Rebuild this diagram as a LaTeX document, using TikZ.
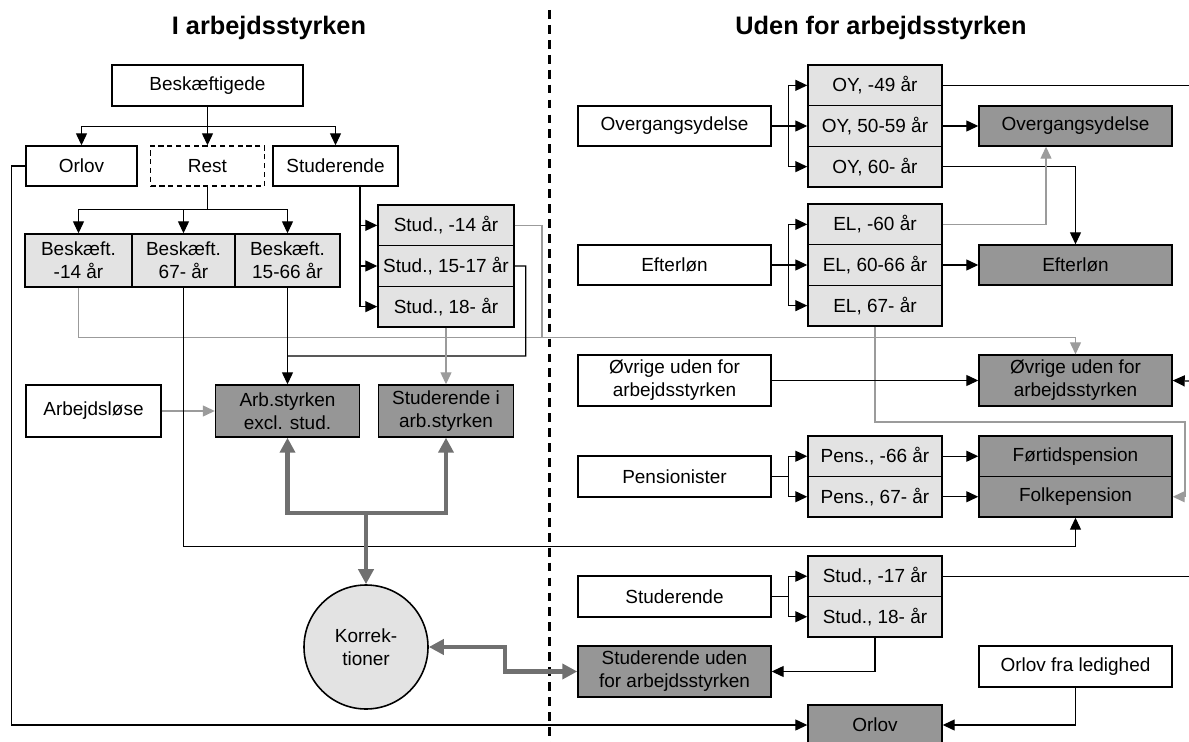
\documentclass[tikz,border=0pt]{standalone}
\usepackage{fontspec}
\setmainfont{Liberation Sans}
\usetikzlibrary{arrows.meta}
\definecolor{lightfill}{RGB}{227,227,227}
\definecolor{darkfill}{RGB}{150,150,150}
\definecolor{lineg}{RGB}{155,155,155}
\definecolor{thickg}{RGB}{112,112,112}

\begin{document}
\begin{tikzpicture}[font=\fontsize{10.8}{13}\selectfont,
  box/.style = {draw, line width=0.8pt, inner sep=0pt, align=center, minimum height=0.82cm},
  wbox/.style = {box, fill=white},
  lbox/.style = {box, fill=lightfill},
  dbox/.style = {box, fill=darkfill},
  line/.style = {line width=0.7pt},
  gline/.style = {line width=0.7pt, lineg},
  arr/.style = {line, -{Triangle[length=0.24cm, width=0.22cm]}},
  garr/.style = {gline, -{Triangle[length=0.24cm, width=0.22cm]}},
  tarr/.style = {line width=2.3pt, thickg, -{Triangle[length=0.3cm, width=0.3cm]}},
  tboth/.style = {line width=2.3pt, thickg, {Triangle[length=0.3cm, width=0.3cm]}-{Triangle[length=0.3cm, width=0.3cm]}},
  title/.style = {font=\fontsize{14.4}{16}\selectfont\bfseries}]

\useasboundingbox (0,0) rectangle (23.78,-14.84);

\node[title] (tl) at (5.38,-0.55) {I arbejdsstyrken};
\node[title] (tr) at (17.62,-0.55) {Uden for arbejdsstyrken};
\draw [line width=1.4pt, dash pattern=on 5pt off 3.5pt] (10.99,-0.2) -- (10.99,-14.84);

% i arbejdsstyrken
\node[wbox, minimum width=3.82cm] (besk) at (4.15,-1.71) {Beskæftigede};
\node[wbox, minimum width=2.22cm, minimum height=0.8cm] (orlovL) at (1.63,-3.32) {Orlov};
\node[wbox, dash pattern=on 3pt off 2pt, minimum width=2.28cm, minimum height=0.8cm] (rest) at (4.15,-3.32) {Rest};
\node[wbox, minimum width=2.5cm, minimum height=0.8cm] (studL) at (6.71,-3.32) {Studerende};

\node[lbox, minimum width=2.14cm, minimum height=1.06cm] (b14) at (1.57,-5.21) {Beskæft.\\-14 år};
\node[lbox, minimum width=2.06cm, minimum height=1.06cm] (b67) at (3.67,-5.21) {Beskæft.\\67- år};
\node[lbox, minimum width=2.1cm, minimum height=1.06cm] (b1566) at (5.75,-5.21) {Beskæft.\\15-66 år};

\node[lbox, minimum width=2.72cm, minimum height=0.813cm] (s14) at (8.92,-4.507) {Stud., -14 år};
\node[lbox, minimum width=2.72cm, minimum height=0.813cm] (s1517) at (8.92,-5.32) {Stud., 15-17 år};
\node[lbox, minimum width=2.72cm, minimum height=0.813cm] (s18) at (8.92,-6.133) {Stud., 18- år};

\node[wbox, minimum width=2.7cm, minimum height=1.04cm] (arbl) at (1.87,-8.22) {Arbejdsløse};
\node[dbox, minimum width=2.88cm, minimum height=1.04cm] (arbs) at (5.75,-8.22) {Arb.styrken\\excl. stud.};
\node[dbox, minimum width=2.7cm, minimum height=1.04cm] (studi) at (8.92,-8.22) {Studerende i\\arb.styrken};

\node[draw, line width=0.9pt, circle, fill=lightfill, minimum size=2.48cm, align=center, inner sep=0pt] (korr) at (7.32,-12.94) {Korrek-\\tioner};

% uden for arbejdsstyrken
\node[wbox, minimum width=3.86cm, minimum height=0.8cm] (oyW) at (13.49,-2.52) {Overgangsydelse};
\node[lbox, minimum width=2.68cm, minimum height=0.813cm] (oy49) at (17.5,-1.707) {OY, -49 år};
\node[lbox, minimum width=2.68cm, minimum height=0.813cm] (oy5059) at (17.5,-2.52) {OY, 50-59 år};
\node[lbox, minimum width=2.68cm, minimum height=0.813cm] (oy60) at (17.5,-3.333) {OY, 60- år};
\node[dbox, minimum width=3.86cm, minimum height=0.8cm] (oyD) at (21.51,-2.52) {Overgangsydelse};

\node[wbox, minimum width=3.86cm, minimum height=0.8cm] (elW) at (13.49,-5.3) {Efterløn};
\node[lbox, minimum width=2.68cm, minimum height=0.813cm] (el60) at (17.5,-4.487) {EL, -60 år};
\node[lbox, minimum width=2.68cm, minimum height=0.813cm] (el6066) at (17.5,-5.3) {EL, 60-66 år};
\node[lbox, minimum width=2.68cm, minimum height=0.813cm] (el67) at (17.5,-6.113) {EL, 67- år};
\node[dbox, minimum width=3.86cm, minimum height=0.8cm] (elD) at (21.51,-5.3) {Efterløn};

\node[wbox, minimum width=3.86cm, minimum height=1.02cm] (ovrW) at (13.49,-7.61) {Øvrige uden for\\arbejdsstyrken};
\node[dbox, minimum width=3.86cm, minimum height=1.02cm] (ovrD) at (21.51,-7.61) {Øvrige uden for\\arbejdsstyrken};

\node[wbox, minimum width=3.86cm] (pensW) at (13.49,-9.53) {Pensionister};
\node[lbox, minimum width=2.68cm, minimum height=0.81cm] (p66) at (17.5,-9.125) {Pens., -66 år};
\node[lbox, minimum width=2.68cm, minimum height=0.81cm] (p67) at (17.5,-9.935) {Pens., 67- år};
\node[dbox, minimum width=3.86cm, minimum height=0.81cm] (fortD) at (21.51,-9.125) {Førtidspension};
\node[dbox, minimum width=3.86cm, minimum height=0.81cm] (folkD) at (21.51,-9.935) {Folkepension};

\node[wbox, minimum width=3.86cm] (studW) at (13.49,-11.93) {Studerende};
\node[lbox, minimum width=2.68cm, minimum height=0.81cm] (s17) at (17.5,-11.525) {Stud., -17 år};
\node[lbox, minimum width=2.68cm, minimum height=0.81cm] (s18R) at (17.5,-12.335) {Stud., 18- år};
\node[dbox, minimum width=3.86cm, minimum height=1.02cm] (studuD) at (13.49,-13.43) {Studerende uden\\for arbejdsstyrken};
\node[wbox, minimum width=3.86cm] (orlfl) at (21.51,-13.33) {Orlov fra ledighed};
\node[dbox, minimum width=2.68cm, minimum height=0.8cm] (orlovD) at (17.5,-14.5) {Orlov};

\coordinate (gj) at (10.84,-6.74);
\coordinate (bj) at (5.75,-7.12);
\coordinate (kj) at (7.32,-10.24);
\coordinate (gr) at (23.7,-8.44);
\coordinate (edgeA) at (23.78,-1.707);
\coordinate (edgeB) at (23.78,-7.62);
\coordinate (edgeC) at (23.78,-11.525);

% venstre side
\draw[arr] (besk.south) -- ++(0,-0.4) -| (orlovL.north);
\draw[arr] (besk.south) -- (rest.north);
\draw[arr] (besk.south) -- ++(0,-0.4) -| (studL.north);
\draw[arr] (rest.south) -- ++(0,-0.46) -| (b14.north);
\draw[arr] (rest.south) -- ++(0,-0.46) -| (b67.north);
\draw[arr] (rest.south) -- ++(0,-0.46) -| (b1566.north);
\draw[arr] ([xshift=0.49cm]studL.south) |- (s14.west);
\draw[arr] ([xshift=0.49cm]studL.south) |- (s1517.west);
\draw[arr] ([xshift=0.49cm]studL.south) |- (s18.west);
\draw[garr] (b14.south) -- ++(0,-1.0) -| (ovrD.north);
\draw[gline] (s14.east) -| (gj);
\draw[line] (s1517.east) -| ++(0.22,-1.8) -- (bj);
\draw[arr] (b1566.south) -- (arbs.north);
\draw[garr] (s18.south) -- (studi.north);
\draw[garr] (arbl.east) -- (arbs.west);
\draw[arr] (b67.south) -- ++(0,-5.18) -| (folkD.south);
\draw[arr] (orlovL.west) -- ++(-0.28,0) |- (orlovD.west);

% hoejre side
\draw[arr] (oyW.east) -- ++(0.34,0) |- (oy49.west);
\draw[arr] (oyW.east) -- (oy5059.west);
\draw[arr] (oyW.east) -- ++(0.34,0) |- (oy60.west);
\draw[line] (oy49.east) -- (edgeA);
\draw[arr] (oy5059.east) -- (oyD.west);
\draw[arr] (oy60.east) -| (elD.north);
\draw[garr] (el60.east) -| ([xshift=-0.59cm]oyD.south);
\draw[arr] (elW.east) -- ++(0.34,0) |- (el60.west);
\draw[arr] (elW.east) -- (el6066.west);
\draw[arr] (elW.east) -- ++(0.34,0) |- (el67.west);
\draw[arr] (el6066.east) -- (elD.west);
\draw[garr] (el67.south) |- (gr) |- (folkD.east);
\draw[arr] (ovrW.east) -- (ovrD.west);
\draw[arr] (edgeB) -- (ovrD.east);
\draw[arr] (pensW.east) -- ++(0.34,0) |- (p66.west);
\draw[arr] (pensW.east) -- ++(0.34,0) |- (p67.west);
\draw[arr] (p66.east) -- (fortD.west);
\draw[arr] (p67.east) -- (folkD.west);
\draw[arr] (studW.east) -- ++(0.34,0) |- (s17.west);
\draw[arr] (studW.east) -- ++(0.34,0) |- (s18R.west);
\draw[line] (s17.east) -- (edgeC);
\draw[arr] (s18R.south) |- (studuD.east);
\draw[arr] (orlfl.south) |- (orlovD.east);

% korrektioner
\draw[tboth] (arbs.south) -- ++(0,-1.5) -| (studi.south);
\draw[tarr] (kj) -- (korr.north);
\draw[tboth] (korr.east) -- ++(1.52,0) |- (studuD.west);

\end{tikzpicture}
\end{document}
